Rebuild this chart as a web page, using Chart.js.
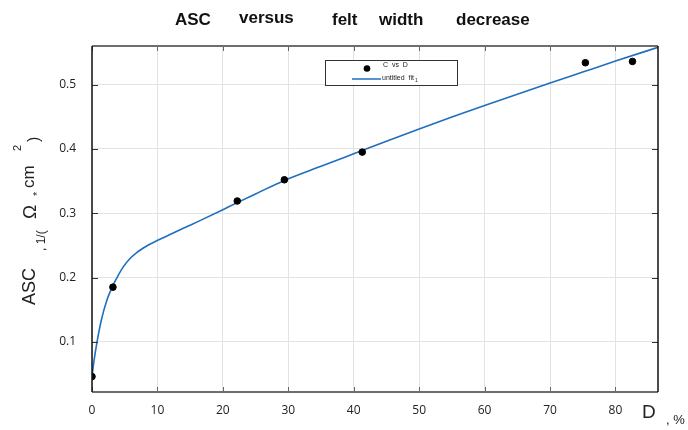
<!DOCTYPE html>
<html>
<head>
<meta charset="utf-8">
<script src="https://cdn.jsdelivr.net/npm/chart.js@4.4.1/dist/chart.umd.min.js"></script>
<style>
html,body{margin:0;padding:0;background:#fff;}
#wrap{width:688px;height:430px;}
</style>
</head>
<body>
<div id="wrap"><canvas id="c" width="688" height="430"></canvas></div>
<script>
// ---- data ----
const measuredD   = [0, 3.2, 22.2, 29.4, 41.3, 75.4, 82.6];
const measuredASC = [0.046, 0.185, 0.319, 0.352, 0.395, 0.534, 0.536];

const fitD   = [0, 0.3, 0.77, 1.43, 2.2, 3.26, 4.02, 4.78, 5.81, 6.83, 8.36, 10.04, 11.92, 13.95, 16.5, 20, 22.2, 25, 29.4, 35, 40, 45, 50, 55, 60, 65, 70, 75, 80, 86.5];
const fitASC = [0.046, 0.070, 0.100, 0.134, 0.1625, 0.189, 0.2036, 0.2165, 0.2295, 0.2389, 0.249, 0.258, 0.2668, 0.2765, 0.2885, 0.3055, 0.3165, 0.330, 0.351, 0.373, 0.3925, 0.412, 0.431, 0.4495, 0.4675, 0.485, 0.5025, 0.5195, 0.5365, 0.558];

const xTicks = [0, 10, 20, 30, 40, 50, 60, 70, 80];
const yTicks = [0.1, 0.2, 0.3, 0.4, 0.5];

const titleWords = ["ASC", "versus", "felt", "width", "decrease"];
const seriesNames = ["C  vs  D", "untitled  fit"];

const decor = {
  id: 'decor',
  afterDraw(chart) {
    const ctx = chart.ctx;
    const a = chart.chartArea;
    const xs = chart.scales.x, ys = chart.scales.y;
    ctx.save();
    // inward ticks
    ctx.lineWidth = 1;
    ctx.strokeStyle = '#333';
    yTicks.forEach(v => {
      const y = Math.round(ys.getPixelForValue(v)) + 0.5;
      ctx.beginPath(); ctx.moveTo(a.left, y); ctx.lineTo(a.left + 6, y); ctx.stroke();
      ctx.beginPath(); ctx.moveTo(a.right, y); ctx.lineTo(a.right - 6, y); ctx.stroke();
    });
    ctx.strokeStyle = '#666';
    xTicks.forEach(v => {
      const x = Math.round(xs.getPixelForValue(v)) + 0.5;
      ctx.beginPath(); ctx.moveTo(x, a.top); ctx.lineTo(x, a.top + 5); ctx.stroke();
      ctx.beginPath(); ctx.moveTo(x, a.bottom); ctx.lineTo(x, a.bottom - 5); ctx.stroke();
    });
    // frame
    ctx.lineWidth = 2;
    ctx.strokeStyle = '#6e6e6e';
    ctx.beginPath(); ctx.moveTo(a.left, a.top); ctx.lineTo(a.right, a.top); ctx.stroke();
    ctx.beginPath(); ctx.moveTo(a.left, a.bottom); ctx.lineTo(a.right, a.bottom); ctx.stroke();
    ctx.lineWidth = 1.5;
    ctx.strokeStyle = '#111';
    ctx.beginPath(); ctx.moveTo(a.left, a.top); ctx.lineTo(a.left, a.bottom); ctx.stroke();
    ctx.beginPath(); ctx.moveTo(a.right, a.top); ctx.lineTo(a.right, a.bottom); ctx.stroke();

    // title
    ctx.fillStyle = '#111';
    ctx.font = 'bold 17px "Liberation Sans", Arial, sans-serif';
    ctx.textBaseline = 'alphabetic';
    ctx.textAlign = 'left';
    const tx = [175, 239, 332, 379, 456];
    const tyo = [0, -2, 0, 0, 0];
    titleWords.forEach((w, i) => ctx.fillText(w, tx[i], 25 + tyo[i]));

    // x axis label
    ctx.fillStyle = '#222';
    ctx.font = '19px "Liberation Sans", Arial, sans-serif';
    ctx.fillText('D', 642, 418);
    ctx.font = '13px "Liberation Sans", Arial, sans-serif';
    ctx.fillText(', %', 666, 424);

    // y axis label (rotated)
    ctx.save();
    ctx.rotate(-Math.PI / 2);
    const put = (txt, font, yStart, xBase) => {
      ctx.font = font;
      ctx.fillText(txt, -yStart, xBase);
    };
    put('ASC', '18px "Liberation Sans", Arial, sans-serif', 305, 35);
    put(', 1/(', '12px "Liberation Sans", Arial, sans-serif', 251, 45);
    put('\u03A9', '19px "Liberation Sans", Arial, sans-serif', 219, 36);
    put('*', '11px "Liberation Sans", Arial, sans-serif', 196, 41);
    put('cm', '17px "Liberation Sans", Arial, sans-serif', 188, 34);
    put('2', '11px "Liberation Sans", Arial, sans-serif', 151, 21);
    put(')', '16px "Liberation Sans", Arial, sans-serif', 142, 39);
    ctx.restore();

    // legend
    ctx.fillStyle = '#fff';
    ctx.fillRect(325, 60, 133, 26);
    ctx.lineWidth = 1;
    ctx.strokeStyle = '#333';
    ctx.strokeRect(325.5, 60.5, 132, 25);
    ctx.fillStyle = '#000';
    ctx.beginPath(); ctx.arc(367, 68.5, 3.3, 0, Math.PI * 2); ctx.fill();
    ctx.strokeStyle = chart.data.datasets[1].borderColor;
    ctx.lineWidth = 1.5;
    ctx.beginPath(); ctx.moveTo(352, 79); ctx.lineTo(381, 79); ctx.stroke();
    ctx.fillStyle = '#222';
    ctx.font = '7px "Liberation Sans", Arial, sans-serif';
    ctx.fillText(chart.data.datasets[0].label, 383, 67);
    ctx.fillText(chart.data.datasets[1].label, 382, 80);
    ctx.font = '5px "Liberation Sans", Arial, sans-serif';
    ctx.fillText('1', 415, 82);
    ctx.restore();
  }
};

new Chart(document.getElementById('c'), {
  type: 'scatter',
  data: {
    datasets: [
      {
        label: seriesNames[0],
        data: measuredD.map((d, i) => ({x: d, y: measuredASC[i]})),
        backgroundColor: '#000',
        borderColor: '#000',
        pointRadius: 3.3,
        pointHoverRadius: 3.3,
        showLine: false,
        order: 0
      },
      {
        label: seriesNames[1],
        data: fitD.map((d, i) => ({x: d, y: fitASC[i]})),
        borderColor: '#1f6fbe',
        backgroundColor: '#1f6fbe',
        borderWidth: 1.6,
        pointRadius: 0,
        showLine: true,
        cubicInterpolationMode: 'monotone',
        order: 1
      }
    ]
  },
  options: {
    responsive: false,
    animation: false,
    devicePixelRatio: 1,
    layout: { padding: { top: 46, right: 30, left: 0, bottom: 0 } },
    plugins: {
      legend: { display: false },
      title: { display: false },
      tooltip: { enabled: false }
    },
    scales: {
      x: {
        type: 'linear',
        min: 0,
        max: 86.5,
        afterBuildTicks: s => { s.ticks = xTicks.map(v => ({value: v})); },
        afterFit: s => { s.height = 38; },
        border: { display: false },
        grid: { color: '#e3e3e3', lineWidth: 1, drawTicks: false },
        ticks: { font: { family: 'Open Sans', size: 12 }, color: '#222', padding: 11, maxRotation: 0 }
      },
      y: {
        type: 'linear',
        min: 0.022,
        max: 0.56,
        afterBuildTicks: s => { s.ticks = yTicks.map(v => ({value: v})); },
        afterFit: s => { s.width = 92; },
        border: { display: false },
        grid: { color: '#e3e3e3', lineWidth: 1, drawTicks: false },
        ticks: { font: { family: 'Open Sans', size: 12 }, color: '#222', padding: 16,
                 callback: v => v.toFixed(1) }
      }
    }
  },
  plugins: [decor]
});
</script>
</body>
</html>
